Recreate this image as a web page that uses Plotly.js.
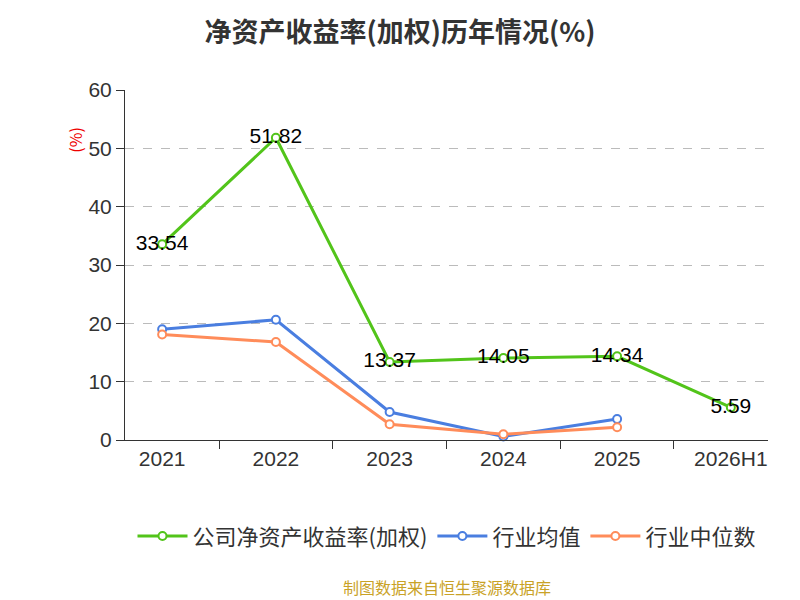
<!DOCTYPE html>
<html>
<head>
<meta charset="utf-8">
<script src="https://cdn.plot.ly/plotly-3.0.1.min.js"></script>
<style>body{margin:0}#chart{width:800px;height:600px}</style>
</head>
<body>
<div id="chart"></div>
<script>
// 数据
const years = ["2021", "2022", "2023", "2024", "2025", "2026H1"];
const roe = [33.54, 51.82, 13.37, 14.05, 14.34, 5.59];
const industryAvg = [19.0, 20.6, 4.8, 0.6, 3.6, null];
const industryMedian = [18.1, 16.8, 2.7, 1.0, 2.2, null];

function serie(name, y, color, withText) {
    const t = {
        type: "scatter",
        mode: withText ? "lines+markers+text" : "lines+markers",
        x: years,
        y: y,
        name: name,
        line: { color: color, width: 3 },
        marker: { size: 8, color: "#fff", line: { color: color, width: 2 } },
        cliponaxis: false
    };
    if (withText) {
        t.text = y.map(v => v.toFixed(2));
        t.textposition = "middle center";
        t.textfont = { size: 21, color: "#000", family: "Liberation Sans, Arial, sans-serif" };
    }
    return t;
}

const data = [
    serie("公司净资产收益率(加权)", roe, "#52c41a", true),
    serie("行业均值", industryAvg, "#4a7ee0", false),
    serie("行业中位数", industryMedian, "#ff8c5a", false)
];

const layout = {
    width: 800,
    height: 600,
    margin: { l: 125, r: 32, t: 90, b: 160 },
    font: { family: "Noto Sans CJK SC, sans-serif", color: "#333" },
    title: {
        text: "<b>净资产收益率(加权)历年情况(%)</b>",
        x: 0.5, y: 0.962, xanchor: "center",
        font: { size: 27, color: "#333" }
    },
    showlegend: true,
    legend: {
        orientation: "h", x: 0.5, xanchor: "center", y: -0.215, yanchor: "top",
        itemwidth: 50,
        font: { size: 22, color: "#333" }
    },
    xaxis: {
        type: "category",
        showline: true, linecolor: "#333", linewidth: 1,
        ticks: "outside", ticklen: 8, tickcolor: "#333",
        tickson: "boundaries",
        showgrid: false,
        tickfont: { size: 21, color: "#333", family: "Liberation Sans, Arial, sans-serif" }
    },
    yaxis: {
        range: [0, 60], dtick: 10,
        showline: true, linecolor: "#333",
        ticks: "outside", ticklen: 8, tickcolor: "#333",
        gridcolor: "#bbb", griddash: "dash",
        zeroline: false,
        tickfont: { size: 21, color: "#333", family: "Liberation Sans, Arial, sans-serif" }
    },
    annotations: [
        {
            text: "(%)", xref: "paper", yref: "paper", x: -0.1, y: 0.9,
            showarrow: false, textangle: -90, font: { size: 16, color: "#e00" }
        },
        {
            text: "制图数据来自恒生聚源数据库", xref: "paper", yref: "paper",
            x: 0.5, xanchor: "center", y: -0.46, showarrow: false,
            font: { size: 16, color: "#c9a227" }
        }
    ],
    plot_bgcolor: "#fff",
    paper_bgcolor: "#fff"
};

Plotly.newPlot("chart", data, layout, { displayModeBar: false });
</script>
</body>
</html>
